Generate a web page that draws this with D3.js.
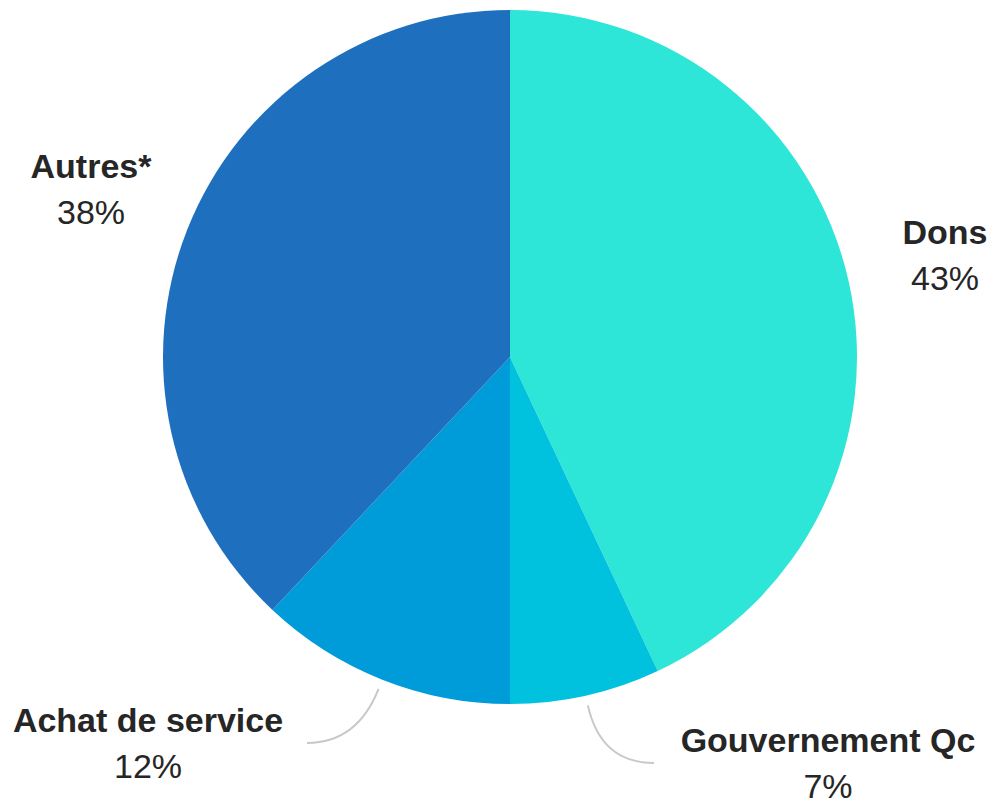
<!DOCTYPE html>
<html>
<head>
<meta charset="utf-8">
<script src="https://cdn.jsdelivr.net/npm/d3@7"></script>
<style>
  body { margin: 0; background: #fff; }
  svg text { font-family: "Liberation Sans", Arial, sans-serif; fill: #262626; }
</style>
</head>
<body>
<svg id="chart" width="1006" height="801"></svg>
<script>
// données du graphique
const categories = ["Dons", "Gouvernement Qc", "Achat de service", "Autres*"];
const values = [43, 7, 12, 38];
const colors = ["#2ee6d7", "#00c2de", "#009bd9", "#1f6fbf"];
// position du libellé (centre du texte, ligne de base du titre)
const labelPos = [[945, 244], [828, 752], [148, 732], [91, 178]];
// côté du libellé où arrive le trait (0 = pas de trait)
const connectorSide = [0, -1, 1, 0];

const cx = 510, cy = 357, R = 347;

const svg = d3.select("#chart");
const g = svg.append("g").attr("transform", `translate(${cx},${cy})`);

const pie = d3.pie().sort(null).value(d => d);
const arcs = pie(values);
const arc = d3.arc().innerRadius(0).outerRadius(R);

g.selectAll("path.slice")
    .data(arcs)
    .enter()
    .append("path")
    .attr("class", "slice")
    .attr("d", arc)
    .attr("fill", (d, i) => colors[i]);

// traits de liaison pour les libellés du bas
arcs.forEach((d, i) => {
    if (!connectorSide[i]) return;
    const a = (d.startAngle + d.endAngle) / 2;
    const ux = Math.sin(a), uy = -Math.cos(a);
    const sx = cx + (R + 10) * ux, sy = cy + (R + 10) * uy;
    const ly = labelPos[i][1];
    const ey = ly + 11;
    const ex = connectorSide[i] > 0 ? 307 : 654;
    const t = (ey - sy) / uy;
    const qx = sx + t * ux;
    const p = d3.path();
    p.moveTo(sx, sy);
    p.quadraticCurveTo(qx, ey, ex, ey);
    svg.append("path")
        .attr("d", p.toString())
        .attr("fill", "none")
        .attr("stroke", "#c8c8c8")
        .attr("stroke-width", 2);
});

// libellés
const labels = svg.selectAll("g.label")
    .data(arcs)
    .enter()
    .append("g")
    .attr("class", "label")
    .attr("transform", (d, i) => `translate(${labelPos[i][0]},${labelPos[i][1]})`);

labels.append("text")
    .attr("text-anchor", "middle")
    .attr("font-size", 34)
    .attr("font-weight", "bold")
    .text((d, i) => categories[i]);

labels.append("text")
    .attr("text-anchor", "middle")
    .attr("y", 46)
    .attr("font-size", 34)
    .text(d => d.data + "%");
</script>
</body>
</html>
